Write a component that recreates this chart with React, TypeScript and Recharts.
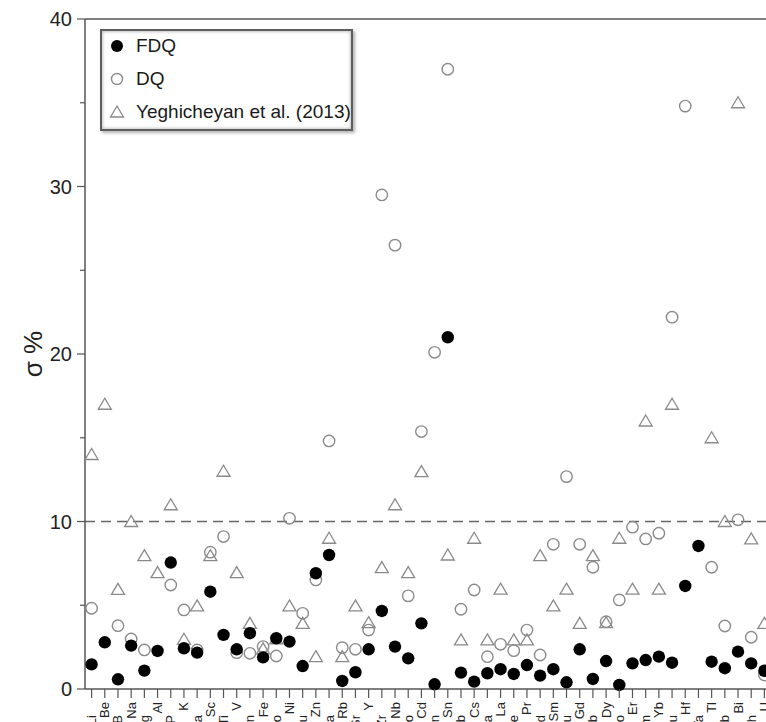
import React from 'react';
import { ScatterChart, Scatter, XAxis, YAxis, ReferenceLine, Legend } from 'recharts';

const elements = ['Li','Be','B','Na','Mg','Al','P','K','Ca','Sc','Ti','V','Mn','Fe','Co','Ni','Cu','Zn','Ga','Rb','Sr','Y','Zr','Nb','Mo','Cd','In','Sn','Sb','Cs','Ba','La','Ce','Pr','Nd','Sm','Eu','Gd','Tb','Dy','Ho','Er','Tm','Yb','Lu','Hf','Ta','Tl','Pb','Bi','Th','U'];

const fdq: (number | null)[] = [1.47,2.79,0.58,2.59,1.1,2.27,7.55,2.43,2.17,5.81,3.23,2.37,3.33,1.89,3.03,2.83,1.37,6.91,8.0,0.48,1.0,2.37,4.66,2.53,1.83,3.92,0.28,21.0,0.98,0.44,0.94,1.18,0.9,1.43,0.8,1.18,0.4,2.37,0.6,1.67,0.24,1.53,1.73,1.93,1.57,6.15,8.54,1.63,1.24,2.23,1.53,1.09];

const dq: (number | null)[] = [4.82,null,3.78,2.99,2.33,null,6.21,4.72,2.33,8.17,9.1,2.17,2.13,2.53,1.97,10.19,4.52,6.51,14.81,2.47,2.37,3.52,29.5,26.5,5.56,15.37,20.1,37.0,4.76,5.91,1.93,2.67,2.29,3.52,2.03,8.64,12.68,8.64,7.27,4.02,5.32,9.66,8.96,9.3,22.2,34.8,null,7.27,3.76,10.1,3.09,0.84];

const yeg: (number | null)[] = [14.0,17.0,5.95,10.0,7.96,6.95,11.0,2.97,4.96,7.96,13.0,6.95,3.92,2.4,3.0,4.96,3.92,1.93,9.0,1.93,4.96,3.96,7.25,11.0,6.95,12.98,null,8.0,2.93,9.0,2.93,5.96,2.93,2.93,7.96,4.96,5.96,3.92,7.96,3.96,9.0,5.96,16.0,5.96,17.0,null,null,15.0,10.0,35.0,8.96,3.92];

const yTicks = [0, 5, 10, 15, 20, 25, 30, 35, 40];
const legendLabels = ['FDQ', 'DQ', 'Yeghicheyan et al. (2013)'];

const toPoints = (vals: (number | null)[]) =>
  vals.map((v, i) => ({ x: i, y: v })).filter((p) => p.y !== null);

const FONT = '"Liberation Sans", Arial, Helvetica, sans-serif';
const AXIS = '#555';
const GREY = '#8a8a8a';

const FilledDot = (p: any) => <circle cx={p.cx} cy={p.cy} r={6.2} fill="#000" />;
const OpenDot = (p: any) => (
  <circle cx={p.cx} cy={p.cy} r={5.7} fill="none" stroke={GREY} strokeWidth={1.4} />
);
const Tri = (p: any) => (
  <path
    d={`M${p.cx},${p.cy - 6} L${p.cx + 6.5},${p.cy + 5} L${p.cx - 6.5},${p.cy + 5} Z`}
    fill="none"
    stroke={GREY}
    strokeWidth={1.3}
    strokeLinejoin="miter"
  />
);

const XTick = (props: any) => {
  const { x, y, payload } = props;
  const i = payload.value as number;
  const upper = i % 2 === 1;
  return (
    <g>
      <line x1={x} x2={x} y1={y} y2={y + 9} stroke={AXIS} strokeWidth={1.2} />
      <text
        transform={`translate(${x + 4.5},${upper ? y + 13 : y + 26}) rotate(-90)`}
        textAnchor="end"
        fontSize={13}
        fontFamily={FONT}
        fill="#222"
      >
        {elements[i]}
      </text>
    </g>
  );
};

const YTick = (props: any) => {
  const { x, y, payload } = props;
  const v = payload.value as number;
  const major = v % 10 === 0;
  return (
    <g>
      <line x1={x - (major ? 8 : 5)} x2={x} y1={y} y2={y} stroke={AXIS} strokeWidth={1.2} />
      {major && (
        <text x={x - 13} y={y} dy="0.36em" textAnchor="end" fontSize={20} fontFamily={FONT} fill="#222">
          {v}
        </text>
      )}
    </g>
  );
};

const LegendMarker = ({ k }: { k: number }) => (
  <svg width={16} height={16} style={{ position: 'absolute', left: 7, top: 2 }}>
    {k === 0 && <circle cx={8} cy={8} r={6} fill="#000" />}
    {k === 1 && <circle cx={8} cy={8} r={5.5} fill="none" stroke={GREY} strokeWidth={1.4} />}
    {k === 2 && <path d="M8,2 L14.5,13 L1.5,13 Z" fill="none" stroke={GREY} strokeWidth={1.3} />}
  </svg>
);

const LegendBox = () => (
  <div
    style={{
      boxSizing: 'border-box',
      width: 253,
      height: 102,
      border: '2px solid #5e5e5e',
      boxShadow: 'inset 0 0 3px 1px #c4c4c4, 2px 2px 3px rgba(0,0,0,0.3)',
      background: '#fff',
      position: 'relative',
      fontFamily: FONT,
    }}
  >
    {legendLabels.map((label, k) => (
      <div key={label} style={{ position: 'absolute', left: 0, top: 5 + k * 33, height: 20, width: 245 }}>
        <LegendMarker k={k} />
        <span
          style={{
            position: 'absolute',
            left: 34,
            top: 0,
            lineHeight: '20px',
            fontSize: 19,
            color: '#1a1a1a',
            whiteSpace: 'nowrap',
          }}
        >
          {label}
        </span>
      </div>
    ))}
  </div>
);

const YLabel = (props: any) => {
  const vb = props.viewBox || { x: 0, y: 0, width: 0, height: 0 };
  const cx = vb.x + 42;
  const cy = vb.y + vb.height / 2;
  return (
    <text
      transform={`translate(${cx},${cy}) rotate(-90)`}
      textAnchor="middle"
      fontSize={26}
      fontFamily={FONT}
      fill="#222"
    >
      σ %
    </text>
  );
};

export default function App() {
  return (
    <div style={{ position: 'absolute', left: 0, top: 0, width: 766, height: 722, overflow: 'hidden', background: '#fff' }}>
      <ScatterChart width={771} height={730} margin={{ top: 19, right: 0, bottom: 0, left: 0 }}>
        <XAxis
          type="number"
          dataKey="x"
          domain={[-0.5, 51.5]}
          ticks={elements.map((_, i) => i)}
          interval={0}
          tickLine={false}
          tickSize={0}
          tickMargin={0}
          height={41}
          axisLine={{ stroke: AXIS, strokeWidth: 1.5 }}
          tick={<XTick />}
          allowDataOverflow
        />
        <YAxis
          type="number"
          dataKey="y"
          domain={[0, 40]}
          ticks={yTicks}
          interval={0}
          tickLine={false}
          tickSize={0}
          tickMargin={0}
          width={85}
          axisLine={{ stroke: AXIS, strokeWidth: 1.5 }}
          tick={<YTick />}
          label={<YLabel />}
        />
        <ReferenceLine y={40} stroke={AXIS} strokeWidth={1.5} />
        <ReferenceLine y={10} stroke="#666" strokeWidth={1.5} strokeDasharray="10 6" />
        <Legend
          layout="vertical"
          align="center"
          verticalAlign="middle"
          wrapperStyle={{ left: 100, top: 29, width: 253, height: 102 }}
          content={() => <LegendBox />}
        />
        <Scatter name="Yeghicheyan et al. (2013)" data={toPoints(yeg)} shape={<Tri />} isAnimationActive={false} />
        <Scatter name="DQ" data={toPoints(dq)} shape={<OpenDot />} isAnimationActive={false} />
        <Scatter name="FDQ" data={toPoints(fdq)} shape={<FilledDot />} isAnimationActive={false} />
      </ScatterChart>
    </div>
  );
}
